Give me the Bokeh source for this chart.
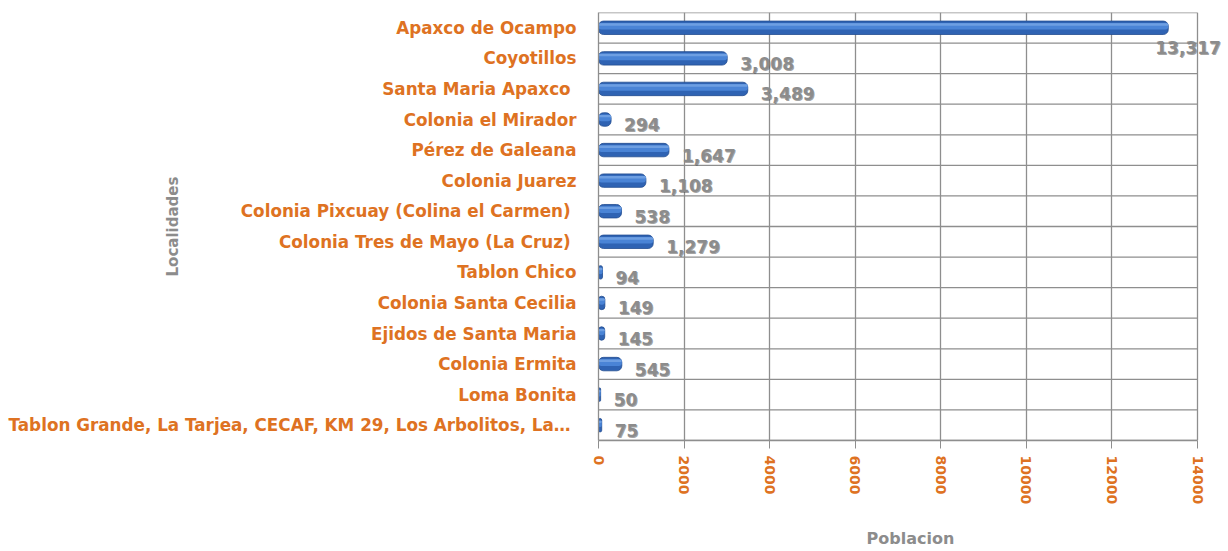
from bokeh.plotting import figure
from bokeh.models import (ColumnDataSource, Range1d, FactorRange, FixedTicker, LabelSet)
from bokeh.core.properties import value
from bokeh.transform import dodge
from bokeh.embed import file_html
from bokeh.resources import INLINE

localidades = [
    "Apaxco de Ocampo",
    "Coyotillos",
    "Santa Maria  Apaxco",
    "Colonia el Mirador",
    "Pérez de Galeana",
    "Colonia Juarez",
    "Colonia Pixcuay  (Colina el Carmen)",
    "Colonia Tres de Mayo  (La Cruz)",
    "Tablon Chico",
    "Colonia Santa Cecilia",
    "Ejidos de Santa Maria",
    "Colonia Ermita",
    "Loma Bonita",
    "Tablon Grande, La Tarjea,  CECAF, KM 29, Los Arbolitos, La…",
]
poblacion = [13317, 3008, 3489, 294, 1647, 1108, 538, 1279, 94, 149, 145, 545, 50, 75]
x_ticks = [0, 2000, 4000, 6000, 8000, 10000, 12000, 14000]
x_max = 14000

label_text = [f"{v:,}" for v in poblacion]
label_dx = [-13] + [13] * 13
label_dy = [-20] + [-5] * 13

ORANGE = "#DE7222"
GRAY = "#8C8C8C"
GRID = "#8E8E8E"
FONT = "DejaVu Sans"

src = ColumnDataSource(dict(loc=localidades, val=poblacion, txt=label_text,
                            dx=label_dx, dy=label_dy,
                            dx2=[d + 1 for d in label_dx], dy2=[d - 1 for d in label_dy]))

# plot area 0..14000 is 599 px wide; frame extended to the right so that the
# outer data label is not clipped
FRAME_W = 624
p = figure(frame_width=FRAME_W, frame_height=428,
           y_range=FactorRange(factors=localidades[::-1]),
           x_range=Range1d(0, x_max * FRAME_W / 599),
           output_backend="svg", toolbar_location=None,
           min_border_left=598, min_border_right=0, min_border_top=12, min_border_bottom=105)

p.background_fill_color = "white"
p.border_fill_color = "white"
p.outline_line_color = None

ticker = FixedTicker(ticks=x_ticks)
p.xaxis.ticker = ticker
p.xgrid.ticker = ticker
p.xgrid.grid_line_color = GRID
p.xgrid.grid_line_width = 1.3
p.ygrid.grid_line_color = None

# row boundary lines (incl. top and bottom of the plot box)
n = len(localidades)
bounds_y = list(range(0, n + 1))
p.segment(x0=[0] * len(bounds_y), x1=[x_max] * len(bounds_y), y0=bounds_y, y1=bounds_y,
          line_color=GRID, line_width=1.3)

# bars (cylinder-like)
p.hbar(y="loc", right="val", left=0, height=0.44, source=src,
       fill_color="#2F63B3", line_color="#224c90", line_width=0.8, border_radius=5)
p.hbar(y=dodge("loc", 0.05, range=p.y_range), right="val", left=0, height=0.22, source=src,
       fill_color="#4A84D6", line_color=None, border_radius=3)
p.hbar(y=dodge("loc", 0.11, range=p.y_range), right="val", left=0, height=0.08, source=src,
       fill_color="#6E9FE2", line_color=None, border_radius=2)

# data labels (with soft shadow)
p.add_layout(LabelSet(x="val", y="loc", text="txt", source=src, x_offset="dx2", y_offset="dy2",
                      text_color="#4a4a4a", text_alpha=0.5, text_font=value(FONT),
                      text_font_style="bold", text_font_size="17px",
                      text_baseline="middle", text_align="left"))
p.add_layout(LabelSet(x="val", y="loc", text="txt", source=src, x_offset="dx", y_offset="dy",
                      text_color=GRAY, text_font=value(FONT), text_font_style="bold",
                      text_font_size="17px", text_baseline="middle", text_align="left"))

# y axis
p.yaxis.axis_line_color = GRID
p.yaxis.axis_line_width = 1.3
p.yaxis.major_tick_line_color = None
p.yaxis.major_tick_out = 0
p.yaxis.major_tick_in = 0
p.yaxis.minor_tick_line_color = None
p.yaxis.major_label_standoff = 22
p.yaxis.major_label_text_color = ORANGE
p.yaxis.major_label_text_font = FONT
p.yaxis.major_label_text_font_style = "bold"
p.yaxis.major_label_text_font_size = "16.8px"
p.yaxis.axis_label = "Localidades"
p.yaxis.axis_label_standoff = -176
p.yaxis.axis_label_text_color = GRAY
p.yaxis.axis_label_text_font = FONT
p.yaxis.axis_label_text_font_style = "bold"
p.yaxis.axis_label_text_font_size = "15px"

# x axis
p.xaxis.bounds = (0, x_max)
p.xaxis.axis_line_color = GRID
p.xaxis.axis_line_width = 1.3
p.xaxis.major_tick_line_color = GRID
p.xaxis.major_tick_out = 8
p.xaxis.major_tick_in = 0
p.xaxis.minor_tick_line_color = None
p.xaxis.major_label_orientation = "vertical"
p.xaxis.major_label_standoff = 7
p.xaxis.major_label_text_color = ORANGE
p.xaxis.major_label_text_font = FONT
p.xaxis.major_label_text_font_style = "bold"
p.xaxis.major_label_text_font_size = "14px"
p.xaxis.axis_label = "Poblacion"
p.xaxis.axis_label_standoff = 22
p.xaxis.axis_label_text_color = GRAY
p.xaxis.axis_label_text_font = FONT
p.xaxis.axis_label_text_font_style = "bold"
p.xaxis.axis_label_text_font_size = "16px"

open("out.html", "w").write(file_html(p, INLINE))
